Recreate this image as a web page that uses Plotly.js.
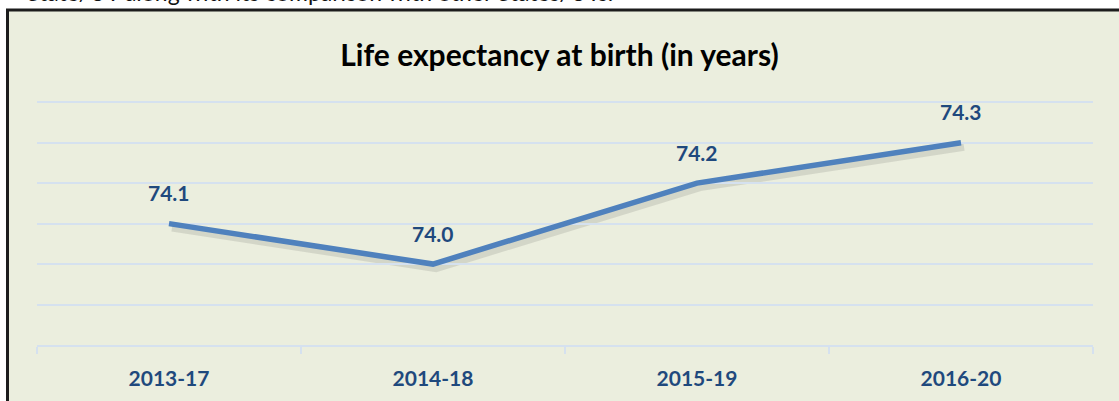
<!DOCTYPE html>
<html>
<head>
<meta charset="utf-8">
<script src="https://cdn.plot.ly/plotly-3.0.1.min.js"></script>
<style>html,body{margin:0;padding:0;background:#fff;}#chart{width:1119px;height:401px;}</style>
</head>
<body>
<div id="chart"></div>
<script>
var periods = ["2013-17", "2014-18", "2015-19", "2016-20"];
var lifeExpectancy = [74.1, 74.0, 74.2, 74.3];
var chartTitle = "Life expectancy at birth (in years)";
var leadText = "State/UT along with its comparison with other States/UTs.";

var W = 1119, H = 401;
var mL = 37, mR = 23, mT = 101, mB = 52;
var pw = W - mL - mR, ph = H - mT - mB;
var sx = 3, sy = 4;
var yRange = [73.8, 74.403];
function py(p) { return (H - mB - p) / ph; }   // pixel row -> paper y
function px(p) { return (p - mL) / pw; }       // pixel col -> paper x

var shadow = {
  x: periods, y: lifeExpectancy, xaxis: 'x', yaxis: 'y',
  type: 'scatter', mode: 'lines',
  line: {color: 'rgba(70,70,70,0.14)', width: 8},
  hoverinfo: 'skip', showlegend: false
};
var main = {
  x: periods, y: lifeExpectancy, xaxis: 'x2', yaxis: 'y2',
  type: 'scatter', mode: 'lines',
  line: {color: '#4F81BD', width: 5.5},
  showlegend: false
};

var labelAnn = periods.map(function(p, i) {
  return {
    x: p, y: lifeExpectancy[i], xref: 'x2', yref: 'y2',
    text: lifeExpectancy[i].toFixed(1), showarrow: false,
    yshift: 31, yanchor: 'middle', xanchor: 'center',
    font: {family: 'Lato, sans-serif', size: 21, color: '#1F497D', weight: 'bold'}
  };
});
labelAnn.push({
  x: px(25), y: py(-8), xref: 'paper', yref: 'paper',
  text: leadText, showarrow: false, xanchor: 'left', yanchor: 'middle',
  font: {family: 'Lato, sans-serif', size: 23, color: '#111'}
});

var layout = {
  width: W, height: H,
  margin: {l: mL, r: mR, t: mT, b: mB, pad: 0},
  paper_bgcolor: '#ffffff',
  plot_bgcolor: 'rgba(0,0,0,0)',
  showlegend: false,
  title: {
    text: '<b>' + chartTitle + '</b>',
    x: 0.5, xref: 'container', xanchor: 'center',
    y: 1 - 55 / H, yref: 'container', yanchor: 'middle',
    font: {family: 'Lato, sans-serif', size: 30, color: '#000'}
  },
  xaxis: {
    domain: [sx / pw, 1], range: [-0.5, 3.5], type: 'category',
    visible: false, fixedrange: true
  },
  yaxis: {
    domain: [0, 1 - sy / ph], range: yRange,
    visible: false, fixedrange: true
  },
  xaxis2: {
    anchor: 'y2', domain: [0, 1 - sx / pw], type: 'category', range: [-0.5, 3.5],
    showgrid: false, showline: true, linecolor: '#D5E1EF', linewidth: 2,
    ticks: 'outside', tickson: 'boundaries', ticklen: 7, tickwidth: 2, tickcolor: '#D5E1EF',
    ticklabelstandoff: 14,
    tickfont: {family: 'Lato, sans-serif', size: 21, color: '#1F497D', weight: 'bold'},
    fixedrange: true
  },
  yaxis2: {
    anchor: 'x2', domain: [sy / ph, 1], range: yRange,
    dtick: 0.1, tick0: 73.8,
    showgrid: true, gridcolor: '#D5E1EF', gridwidth: 2,
    showticklabels: false, ticks: '', zeroline: false, showline: false,
    fixedrange: true
  },
  shapes: [{
    type: 'rect', xref: 'paper', yref: 'paper', layer: 'below',
    x0: px(7.5), x1: 1.3, y0: -0.6, y1: py(10),
    line: {color: '#1c1c1c', width: 3}, fillcolor: '#EBEEDE'
  }],
  annotations: labelAnn
};

Plotly.newPlot('chart', [shadow, main], layout, {displayModeBar: false, staticPlot: true});
</script>
</body>
</html>
